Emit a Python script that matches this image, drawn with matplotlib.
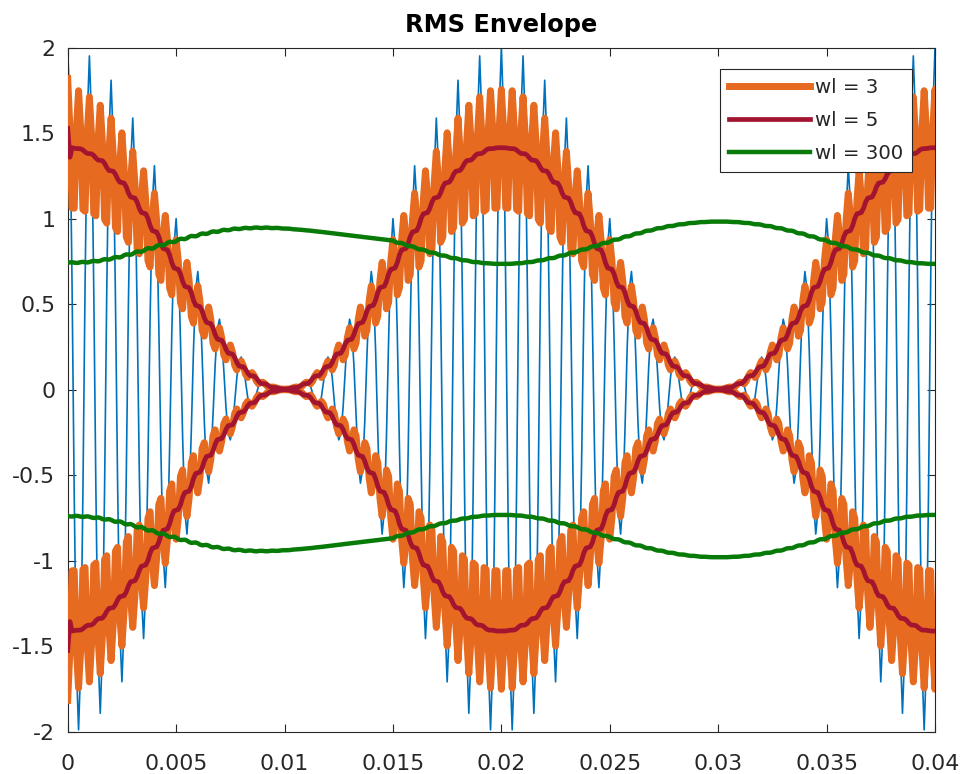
import numpy as np
import matplotlib
matplotlib.use("Agg")
import matplotlib.pyplot as plt

# ---- data (signal parameters) ----
sample_rate_hz = 10000          # samples per second
duration_s = 0.1                # signal length
carrier_hz = 1000               # carrier frequency
modulation_hz = 50              # modulation frequency (envelope zeros at 0.01, 0.03)
window_lengths = [3, 5, 300]    # RMS window lengths
legend_labels = ["wl = 3", "wl = 5", "wl = 300"]
x_limits = [0, 0.04]
y_limits = [-2, 2]
x_ticks = [0, 0.005, 0.01, 0.015, 0.02, 0.025, 0.03, 0.035, 0.04]
x_tick_labels = ["0", "0.005", "0.01", "0.015", "0.02", "0.025", "0.03", "0.035", "0.04"]
y_ticks = [-2, -1.5, -1, -0.5, 0, 0.5, 1, 1.5, 2]
y_tick_labels = ["-2", "-1.5", "-1", "-0.5", "0", "0.5", "1", "1.5", "2"]
title_text = "RMS Envelope"

n_samples = int(round(duration_s * sample_rate_hz)) + 1
t = np.arange(n_samples) / sample_rate_hz
x = (1 + np.cos(2 * np.pi * modulation_hz * t)) * np.cos(2 * np.pi * carrier_hz * t)


def movmean_shrink(v, k):
    n = len(v)
    if k % 2 == 1:
        kb = kf = (k - 1) // 2
    else:
        kb = k // 2
        kf = k // 2 - 1
    c = np.concatenate([[0.0], np.cumsum(v)])
    out = np.empty(n)
    for i in range(n):
        a = max(0, i - kb)
        b = min(n, i + kf + 1)
        out[i] = (c[b] - c[a]) / (b - a)
    return out


def rms_envelope(v, k):
    m = v.mean()
    r = np.sqrt(movmean_shrink((v - m) ** 2, k))
    return m + r, m - r


colors = ["#E66A1F", "#A2142F", "#077A07"]
widths = [5.0, 3.4, 3.2]

plt.rcParams["font.family"] = ["DejaVu Sans"]
plt.rcParams["axes.unicode_minus"] = False

fig = plt.figure(figsize=(9.66, 7.74), dpi=100)
ax = fig.add_axes([0.0701, 0.0543, 0.8978, 0.8843])

ax.plot(t, x, color="#0072BD", lw=1.2, zorder=2)
handles = []
for wl, col, lw, lab in zip(window_lengths, colors, widths, legend_labels):
    up, lo = rms_envelope(x, wl)
    h, = ax.plot(t, up, color=col, lw=lw, label=lab, zorder=3)
    ax.plot(t, lo, color=col, lw=lw, zorder=3)
    handles.append(h)

ax.set_xlim(x_limits)
ax.set_ylim(y_limits)
ax.set_xticks(x_ticks)
ax.set_xticklabels(x_tick_labels)
ax.set_yticks(y_ticks)
ax.set_yticklabels(y_tick_labels)

axc = "#262626"
for s in ax.spines.values():
    s.set_color(axc)
    s.set_linewidth(0.8)
ax.tick_params(axis="both", direction="in", length=6, width=0.8, colors=axc,
               labelsize=15.8, top=True, right=True)
ax.tick_params(axis="x", pad=16)
ax.tick_params(axis="y", pad=9)

ax.set_title(title_text, fontsize=17.4, fontweight="bold", color="black", pad=11)

leg = ax.legend(handles=handles, loc="upper right", bbox_to_anchor=(0.9735, 0.9686),
                borderaxespad=0, fontsize=14.2, handlelength=4.1, handletextpad=0.25,
                borderpad=0.45, labelspacing=0.72, fancybox=False, framealpha=1,
                edgecolor=axc)
leg.get_frame().set_linewidth(0.8)
for txt in leg.get_texts():
    txt.set_color(axc)

fig.savefig("out.png", dpi=100, facecolor="white")
